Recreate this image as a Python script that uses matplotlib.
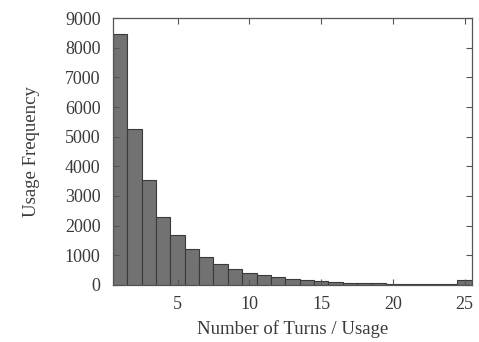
import numpy as np
import matplotlib.pyplot as plt

turns = np.arange(1, 26)
freq = [8480, 5250, 3530, 2290, 1670, 1220, 940, 720, 550, 415,
        335, 250, 200, 160, 130, 100, 75, 60, 50, 40,
        35, 30, 25, 20, 170]
xticks = [5, 10, 15, 20, 25]
yticks = np.arange(0, 9001, 1000)

plt.rcParams['font.family'] = ['Liberation Serif', 'DejaVu Serif']
txt = '#3a3a3a'

fig = plt.figure(figsize=(4.79, 3.42), dpi=100)
ax = fig.add_axes([0.236, 0.167, 0.749, 0.780])
ax.bar(turns, freq, width=1.0, color='#727272', edgecolor='#3a3a3a', linewidth=0.8)

ax.set_xlim(0.5, 25.5)
ax.set_ylim(0, 9000)
ax.set_xticks(xticks)
ax.set_yticks(yticks)
ax.tick_params(direction='in', top=True, right=True, length=4, width=0.8,
               labelsize=13, labelcolor=txt, color='#555555')
ax.tick_params(axis='y', pad=9)
ax.tick_params(axis='x', pad=8)
for s in ax.spines.values():
    s.set_color('#555555')
    s.set_linewidth(0.9)

ax.set_xlabel('Number of Turns / Usage', fontsize=13.5, color=txt, labelpad=5)
ax.set_ylabel('Usage Frequency', fontsize=13.5, color=txt, labelpad=18)

fig.savefig('out.png', dpi=100)
